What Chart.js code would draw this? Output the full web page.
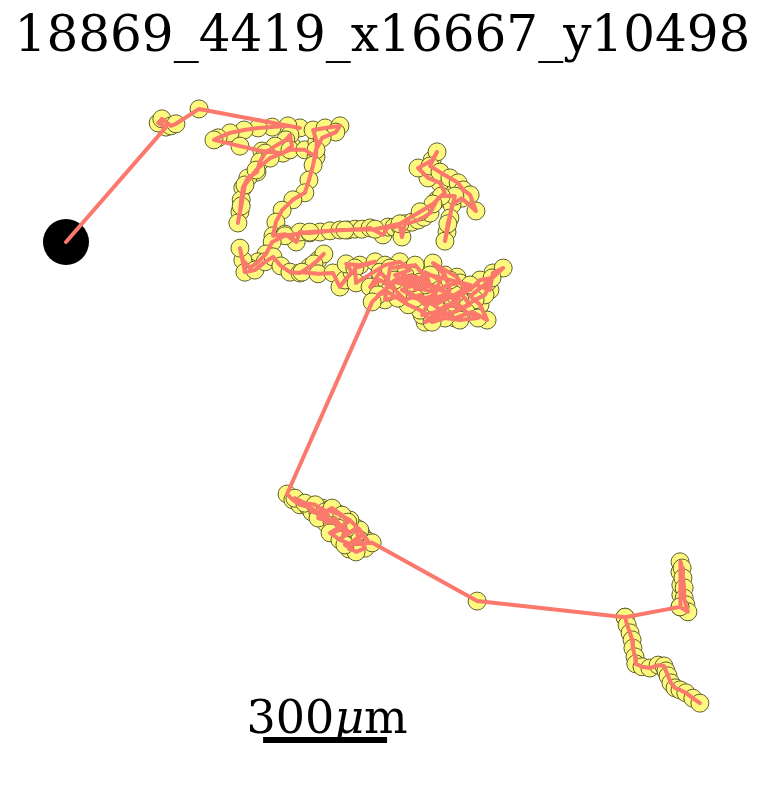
<!DOCTYPE html>
<html>
<head>
<meta charset="utf-8">
<script src="https://cdn.jsdelivr.net/npm/chart.js@4"></script>
<style>
html,body{margin:0;padding:0;background:#fff;}
#wrap{width:765px;height:786px;}
</style>
</head>
<body>
<div id="wrap"><canvas id="c" width="765" height="786"></canvas></div>
<script>
const titleText = "18869_4419_x16667_y10498";
// track positions in µm, relative to the start point
const trackX = [0,242,223,232,254,266,322,566,537,499,465,431,397,368,358,421,474,525,547,542,532,506,482,469,462,440,428,424,421,416,424,433,460,494,542,578,605,607,598,627,663,653,620,605,598,588,578,549,523,508,501,
530,557,566,590,615,639,663,682,699,716,736,767,779,794,808,813,820,837,852,866,881,898,
917,905,876,852,886,898,881,905,929,949,961,978,992,958,934,929,922,917,924,941,908,888,857,
808,748,675,590,530,499,484,465,445,428,421,433,457,482,501,520,542,566,590,610,624,600,571,610,646,663,675,692,678,711,748,699,702,
772,808,832,796,820,857,845,881,869,905,893,857,832,869,905,929,917,888,946,966,941,917,881,869,905,941,978,958,990,1026,1033,1058,1021,978,1002,1019,983,941,900,857,820,796,760,736,760,789,808,772,
784,845,876,837,803,852,888,924,953,978,1002,1031,1014,990,958,924,895,862,881,915,934,968,997,953,917,886,857,828,803,779,755,
820,869,917,953,905,857,813,845,893,941,978,929,881,837,796,741,
535,549,566,586,595,610,620,634,629,651,663,651,675,670,687,702,707,685,692,716,731,711,687,658,634,610,644,682,
554,578,603,627,644,668,682,658,639,663,692,711,724,702,675,741,
995,1353,1486,1488,1488,1486,1486,1491,1493,1496,1496,1500,1505,1486,1353,1358,1365,1370,1372,1377,1379,1394,1413,1433,1447,1452,1457,1464,1474,1486,1500,1517,1534];
const trackY = [0,278,288,298,281,286,322,276,281,278,276,271,264,252,247,232,220,215,232,259,247,232,215,194,169,155,131,102,73,46,87,138,174,203,223,223,206,242,271,276,281,266,252,223,186,150,119,102,77,48,15,
19,0,24,22,24,27,29,29,31,31,34,17,36,36,39,12,44,48,53,60,70,102,
119,143,155,179,198,218,184,169,155,143,126,114,75,106,90,58,24,2,44,111,111,92,73,
44,31,29,24,15,0,-29,-48,-63,-44,-15,-73,-68,-48,-36,-58,-73,-75,-60,-44,-29,-53,-73,-77,-75,-109,-92,-73,-53,-56,-48,-63,-99,
-56,-48,-68,-80,-99,-87,-116,-104,-73,-92,-128,-140,-121,-152,-140,-116,-80,-51,-85,-116,-140,-165,-184,-194,-177,-169,-152,-128,-104,-116,-75,-63,-97,-131,-152,-189,-169,-184,-160,-128,-140,-116,-92,-109,-73,-104,-131,-140,
-63,-56,-92,-82,-99,-111,-121,-104,-99,-116,-92,-87,-128,-140,-160,-152,-169,-177,-140,-128,-136,-169,-184,-189,-184,-194,-165,-152,-136,-121,-128,
-80,-104,-121,-140,-111,-97,-116,-136,-152,-128,-104,-92,-80,-99,-92,-145,
-610,-624,-636,-641,-653,-656,-644,-661,-680,-668,-685,-702,-690,-714,-704,-692,-716,-743,-726,-709,-724,-697,-673,-658,-649,-668,-678,-699,
-620,-632,-636,-653,-644,-661,-678,-692,-704,-721,-733,-721,-741,-750,-733,-728,
-869,-908,-883,-854,-830,-799,-774,-789,-813,-837,-862,-878,-895,-883,-908,-927,-946,-963,-983,-1004,-1021,-1028,-1031,-1024,-1026,-1038,-1050,-1067,-1079,-1084,-1091,-1104,-1116];
const startX = [0];
const startY = [0];
// scale bar (µm)
const scaleBarX = [477, 777];
const scaleBarY = [-1205, -1205];
const scaleBarNumber = "300";
const scaleBarUnit = ["μ", "m"];

const track = trackX.map((x, i) => ({x: x, y: trackY[i]}));
const markers = track.slice(1);
const start = startX.map((x, i) => ({x: x, y: startY[i]}));
const bar = scaleBarX.map((x, i) => ({x: x, y: scaleBarY[i]}));

const scaleLabelPlugin = {
  id: 'scaleLabel',
  afterDatasetsDraw(chart) {
    const ctx = chart.ctx;
    const xs = chart.scales.x, ys = chart.scales.y;
    const cx = (xs.getPixelForValue(scaleBarX[0]) + xs.getPixelForValue(scaleBarX[1])) / 2;
    const by = ys.getPixelForValue(scaleBarY[0]) - 7;
    ctx.save();
    ctx.fillStyle = '#000';
    ctx.textBaseline = 'alphabetic';
    const fN = '46px "DejaVu Serif"';
    const fI = 'italic 46px "DejaVu Serif"';
    ctx.font = fN; const w1 = ctx.measureText(scaleBarNumber).width;
    ctx.font = fI; const w2 = ctx.measureText(scaleBarUnit[0]).width;
    ctx.font = fN; const w3 = ctx.measureText(scaleBarUnit[1]).width;
    let x0 = cx - (w1 + w2 + w3) / 2 + 2;
    ctx.textAlign = 'left';
    ctx.font = fN; ctx.fillText(scaleBarNumber, x0, by);
    ctx.font = fI; ctx.fillText(scaleBarUnit[0], x0 + w1, by);
    ctx.font = fN; ctx.fillText(scaleBarUnit[1], x0 + w1 + w2, by);
    ctx.restore();
  }
};

new Chart(document.getElementById('c'), {
  type: 'scatter',
  data: {
    datasets: [
      { label: 'path', data: track, showLine: true, borderColor: '#fa786c', borderWidth: 4, borderJoinStyle: 'round', borderCapStyle: 'round', pointRadius: 0, tension: 0, order: 0 },
      { label: 'scale', data: bar, showLine: true, borderColor: '#000', borderWidth: 6, borderCapStyle: 'butt', pointRadius: 0, order: 1 },
      { label: 'points', data: markers, showLine: false, pointRadius: 9, pointBackgroundColor: '#fdf87e', pointBorderColor: '#5f5f2c', pointBorderWidth: 1, order: 2 },
      { label: 'start', data: start, showLine: false, pointRadius: 23, pointBackgroundColor: '#000', pointBorderColor: '#000', pointBorderWidth: 0, order: 3 }
    ]
  },
  options: {
    responsive: false,
    animation: false,
    layout: { padding: 0, autoPadding: false },
    plugins: {
      legend: { display: false },
      tooltip: { enabled: false },
      title: {
        display: true,
        text: titleText,
        color: '#000',
        font: { family: '"DejaVu Serif"', size: 50, weight: 'normal', lineHeight: 1.2 },
        padding: { top: 8, bottom: 2 }
      }
    },
    scales: {
      x: { type: 'linear', display: false, min: -159.7, max: 1691.6 },
      y: { type: 'linear', display: false, min: -1316.5, max: 416.2 }
    }
  },
  plugins: [scaleLabelPlugin]
});
</script>
</body>
</html>
